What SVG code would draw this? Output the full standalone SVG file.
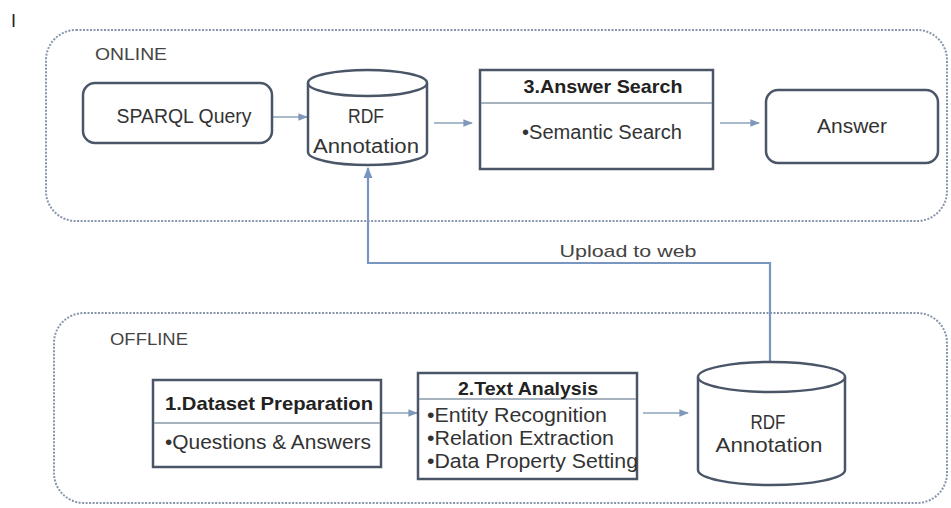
<svg xmlns="http://www.w3.org/2000/svg" width="951" height="508" viewBox="0 0 951 508">
  <style>
    text { font-family: "Liberation Sans", Arial, sans-serif; fill: #333; }
    .t { font-size: 19.5px; }
    .b { font-size: 19px; font-weight: bold; fill: #222; }
    .lbl { font-size: 17px; fill: #444; }
    .cont { fill: none; stroke: #8796ab; stroke-width: 2; stroke-dasharray: 2 1.5; }
    .box { fill: #fff; stroke: #4a5668; stroke-width: 2.5; }
    .div { stroke: #8a98aa; stroke-width: 1.5; }
    .arr { fill: none; stroke: #8ea3bd; stroke-width: 1.6; marker-end: url(#ah); }
    .up { fill: none; stroke: #7896c0; stroke-width: 2.2; }
  </style>
  <defs>
    <marker id="ah" viewBox="0 0 10 10" refX="9" refY="5" markerWidth="6" markerHeight="6" orient="auto">
      <path d="M0,1 L10,5 L0,9 z" fill="#7f97b8"/>
    </marker>
    <marker id="ahu" viewBox="0 0 10 10" refX="9" refY="5" markerWidth="5" markerHeight="5" orient="auto">
      <path d="M0,1 L10,5 L0,9 z" fill="#7896c0"/>
    </marker>
  </defs>
  <rect width="951" height="508" fill="#fff"/>
  <text x="11" y="27" style="font-size:18px;fill:#222">I</text>

  <g id="online">
    <rect class="cont" x="46" y="30" width="901" height="191" rx="30"/>
    <text class="lbl" x="95" y="60" textLength="72" lengthAdjust="spacingAndGlyphs">ONLINE</text>
  </g>
  <g id="offline">
    <rect class="cont" x="54" y="313" width="893" height="190" rx="30"/>
    <text class="lbl" x="110" y="345" textLength="78" lengthAdjust="spacingAndGlyphs">OFFLINE</text>
  </g>

  <g id="connectors">
    <line class="arr" x1="273" y1="117" x2="307" y2="117"/>
    <line class="arr" x1="434" y1="123" x2="472" y2="123"/>
    <line class="arr" x1="720" y1="123" x2="759" y2="123"/>
    <line class="arr" x1="382" y1="413" x2="417" y2="413"/>
    <line class="arr" x1="643" y1="413" x2="688" y2="413"/>
    <polyline class="up" points="770,362 770,263 368,263 368,168" marker-end="url(#ahu)"/>
    <text class="lbl" x="628" y="257" text-anchor="middle" textLength="137" lengthAdjust="spacingAndGlyphs">Upload to web</text>
  </g>

  <g id="sparql">
    <rect class="box" x="83" y="83" width="189" height="60" rx="12"/>
    <text class="t" x="184" y="123" text-anchor="middle" textLength="135" lengthAdjust="spacingAndGlyphs">SPARQL Query</text>
  </g>

  <g id="rdf-online">
    <path class="box" d="M308,83 L308,152 A59.5,13 0 0 0 427,152 L427,83"/>
    <ellipse class="box" cx="367.5" cy="83" rx="59.5" ry="13"/>
    <text class="t" x="366" y="123" text-anchor="middle" textLength="36" lengthAdjust="spacingAndGlyphs">RDF</text>
    <text class="t" x="366" y="153" text-anchor="middle" textLength="106" lengthAdjust="spacingAndGlyphs">Annotation</text>
  </g>

  <g id="answer-search">
    <rect class="box" x="480" y="70" width="233" height="99"/>
    <line class="div" x1="481" y1="103" x2="712" y2="103"/>
    <text class="b" x="603" y="93" text-anchor="middle" textLength="159" lengthAdjust="spacingAndGlyphs">3.Answer Search</text>
    <text class="t" x="522" y="139" textLength="160" lengthAdjust="spacingAndGlyphs">•Semantic Search</text>
  </g>

  <g id="answer">
    <rect class="box" x="766" y="90" width="172" height="73" rx="12"/>
    <text class="t" x="852" y="133" text-anchor="middle" textLength="70" lengthAdjust="spacingAndGlyphs">Answer</text>
  </g>

  <g id="dataset">
    <rect class="box" x="153" y="380" width="228" height="87"/>
    <line class="div" x1="154" y1="423" x2="380" y2="423"/>
    <text class="b" x="165" y="410" textLength="208" lengthAdjust="spacingAndGlyphs">1.Dataset Preparation</text>
    <text class="t" x="165" y="449" textLength="206" lengthAdjust="spacingAndGlyphs">•Questions &amp; Answers</text>
  </g>

  <g id="text-analysis">
    <rect class="box" x="418" y="373" width="219" height="106"/>
    <line class="div" x1="419" y1="399" x2="636" y2="399"/>
    <text class="b" x="458" y="395" textLength="140" lengthAdjust="spacingAndGlyphs">2.Text Analysis</text>
    <text class="t" x="427" y="422" textLength="180" lengthAdjust="spacingAndGlyphs">•Entity Recognition</text>
    <text class="t" x="427" y="445" textLength="187" lengthAdjust="spacingAndGlyphs">•Relation Extraction</text>
    <text class="t" x="427" y="468" textLength="211" lengthAdjust="spacingAndGlyphs">•Data Property Setting</text>
  </g>

  <g id="rdf-offline">
    <path class="box" d="M698,377 L698,470 A73.5,15 0 0 0 845,470 L845,377"/>
    <ellipse class="box" cx="771.5" cy="377" rx="73.5" ry="15"/>
    <text class="t" x="768" y="429" text-anchor="middle" textLength="35" lengthAdjust="spacingAndGlyphs">RDF</text>
    <text class="t" x="769" y="452" text-anchor="middle" textLength="107" lengthAdjust="spacingAndGlyphs">Annotation</text>
  </g>
</svg>
